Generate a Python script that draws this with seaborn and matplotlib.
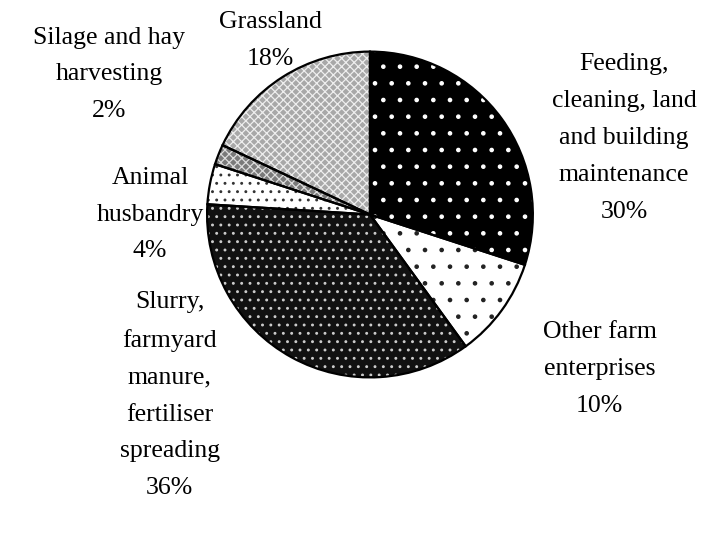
import numpy as np
import matplotlib.pyplot as plt
import seaborn as sns

# data, clockwise from 12 o'clock
categories = ["Feeding,\ncleaning, land\nand building\nmaintenance",
              "Other farm\nenterprises",
              "Slurry,\nfarmyard\nmanure,\nfertiliser\nspreading",
              "Animal\nhusbandry",
              "Silage and hay\nharvesting",
              "Grassland"]
shares = [30, 10, 36, 4, 2, 18]

# greyscale fill + dot/cross hatch per slice
face_colors = ["black", "white", "#111111", "white", "#7a7a7a", "#a8a8a8"]
hatch_colors = ["white", "#222222", "#cccccc", "#333333", "#dddddd", "#eeeeee"]
hatches = [".", ".", "..", "..", "xxxx", "xxxx"]

# label anchor positions (pie radius = 1)
label_pos = [(1.56, 0.47), (1.41, -0.95), (-1.23, -1.11),
             (-1.35, 0.0), (-1.60, 0.86), (-0.61, 1.07)]

sns.set_style("white")
plt.rcParams["font.family"] = ["Liberation Serif", "DejaVu Serif"]
plt.rcParams["hatch.linewidth"] = 0.9

fig = plt.figure(figsize=(7.24, 5.41), dpi=100)
ax = fig.add_axes([0.286, 0.302, 0.45, 0.603])

wedges, _ = ax.pie(shares, startangle=90, counterclock=False, radius=1,
                   colors=face_colors)
for w, hc, h in zip(wedges, hatch_colors, hatches):
    w.set_edgecolor(hc)
    w.set_hatch(h)
    w.set_linewidth(0)

# outline layer
outline, _ = ax.pie(shares, startangle=90, counterclock=False, radius=1,
                    wedgeprops=dict(fill=False, edgecolor="black", linewidth=1.6))

for name, pct, (x, y) in zip(categories, shares, label_pos):
    ax.text(x, y, f"{name}\n{pct}%", ha="center", va="center",
            fontsize=18.5, linespacing=1.87, color="black")

ax.set_xlim(-1, 1)
ax.set_ylim(-1, 1)
ax.set_aspect("equal")
ax.axis("off")

fig.savefig("out.png", dpi=100)
